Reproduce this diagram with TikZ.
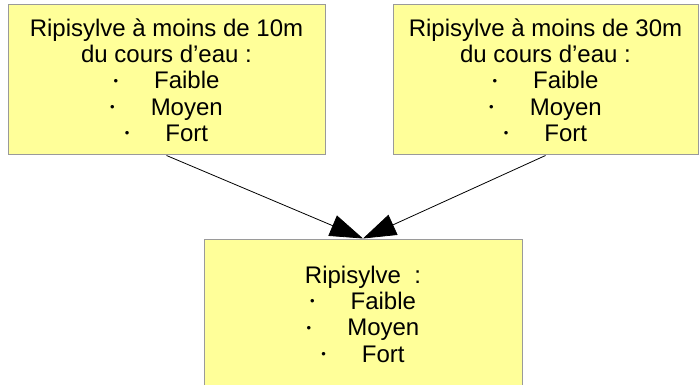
\documentclass[tikz,border=0pt]{standalone}
\usepackage{fontspec}
\setmainfont{Liberation Sans}
\usepackage{tikz}
\usetikzlibrary{arrows.meta}
\definecolor{boxfill}{HTML}{FFFF99}
\definecolor{boxline}{HTML}{9A9A9A}
\newcommand{\puce}[1]{\raisebox{3.5pt}{\fontsize{13}{13}\selectfont •}\hspace{36pt}#1}

\begin{document}
\begin{tikzpicture}[x=1pt,y=-1pt,
  critere/.style={draw=boxline, line width=1pt, fill=boxfill, inner sep=0pt,
    align=center, font=\fontsize{24}{26.3}\selectfont},
  fleche/.style={black, line width=0.8pt, -{Triangle[length=33pt,width=22pt]}}]
\useasboundingbox (0,0) rectangle (699,385);
\node[critere, minimum width=317pt, minimum height=150pt] (dix) at (166.5,80)
  {Ripisylve à moins de 10m\\du cours d’eau :\\\puce{Faible}\\\puce{Moyen}\\\puce{Fort}};
\node[critere, minimum width=305pt, minimum height=150pt] (trente) at (545.5,80)
  {Ripisylve à moins de 30m\\du cours d’eau :\\\puce{Faible}\\\puce{Moyen}\\\puce{Fort}};
\node[critere, minimum width=318pt, minimum height=150pt] (ripi) at (363,314)
  {Ripisylve\ \ :\\\puce{Faible}\\\puce{Moyen}\\\puce{Fort}};
\draw[fleche] (dix.south) -- (ripi.north);
\draw[fleche] (trente.south) -- (ripi.north);
\end{tikzpicture}
\end{document}
